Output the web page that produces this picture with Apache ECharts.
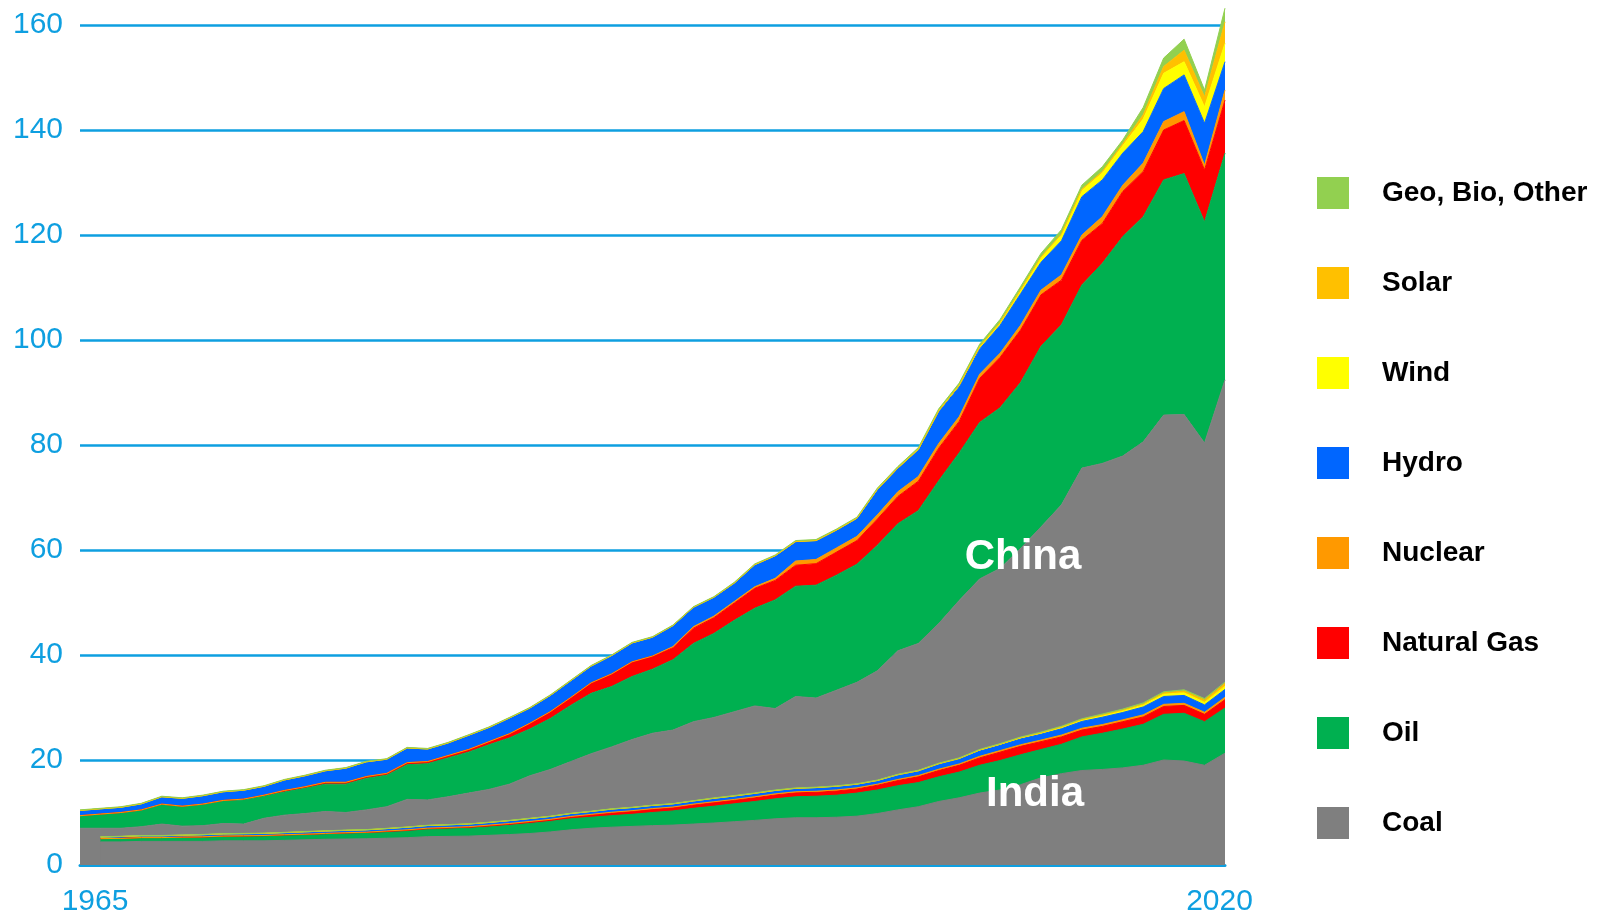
<!DOCTYPE html>
<html><head><meta charset="utf-8">
<script src="https://cdn.jsdelivr.net/npm/echarts@6/dist/echarts.min.js"></script>
<style>html,body{margin:0;padding:0;background:#fff}#c{width:1613px;height:917px}</style>
</head><body><div id="c"></div>
<script>
const years = ['1965','1966','1967','1968','1969','1970','1971','1972','1973','1974','1975','1976','1977','1978','1979','1980','1981','1982','1983','1984','1985','1986','1987','1988','1989','1990','1991','1992','1993','1994','1995','1996','1997','1998','1999','2000','2001','2002','2003','2004','2005','2006','2007','2008','2009','2010','2011','2012','2013','2014','2015','2016','2017','2018','2019','2020','2021'];
const xTickLabels = ['1965','2020'];
const sourceNames = ['Coal','Oil','Natural Gas','Nuclear','Hydro','Wind','Solar','Geo, Bio, Other'];
const legendOrder = ['Geo, Bio, Other','Solar','Wind','Hydro','Nuclear','Natural Gas','Oil','Coal'];
const colors = ['#7f7f7f','#00b050','#ff0000','#ff9900','#0066ff','#ffff00','#ffc000','#92d050'];

const chinaCoal = [7.0,7.0,7.0,7.3,7.8,7.4,7.5,7.9,7.8,8.9,9.5,9.8,10.2,10.0,10.5,11.1,12.5,12.4,13.0,13.7,14.4,15.4,17.0,18.2,19.7,21.2,22.5,23.9,25.1,25.7,27.3,28.1,29.2,30.3,29.8,32.1,31.8,33.3,34.8,37.0,40.8,42.2,46.0,50.4,54.5,56.5,60.3,64.4,68.6,75.6,76.5,77.9,80.6,85.7,85.8,80.4,92.4];
const chinaOil = [2.3,2.6,2.9,3.1,3.7,3.7,4.0,4.3,4.6,4.2,4.4,4.8,5.2,5.4,6.0,6.0,6.6,6.9,7.4,7.8,8.5,8.8,8.9,9.7,10.7,11.5,11.5,12.0,12.2,13.4,14.9,16.0,17.4,18.6,20.7,21.0,21.5,21.9,22.5,23.9,24.2,25.3,27.2,28.1,29.8,30.6,31.6,34.4,34.3,34.9,38.1,41.8,42.9,44.8,45.9,42.1,43.2];
const chinaGas = [0.1,0.1,0.1,0.1,0.1,0.1,0.1,0.1,0.15,0.2,0.3,0.3,0.35,0.35,0.35,0.35,0.4,0.4,0.45,0.5,0.6,0.8,1.1,1.3,1.5,2.0,2.4,2.8,2.5,2.3,2.9,3.0,3.3,3.8,3.7,4.0,4.1,4.4,4.5,5.0,5.2,5.6,6.2,6.0,8.4,9.6,10.0,9.8,8.5,8.5,7.6,8.6,8.6,9.5,10.1,9.9,10.1];
const chinaNuclear = [0,0,0,0,0,0,0,0,0,0,0,0,0,0,0,0,0,0,0,0,0,0,0,0,0,0,0,0,0,0.2,0.3,0.3,0.3,0.3,0.4,0.8,0.8,0.8,0.8,0.8,0.9,0.9,0.9,0.9,0.8,0.8,0.9,0.9,1.0,1.0,1.3,1.2,1.6,1.6,1.7,0.9,1.9];
const chinaHydro = [1.0,1.0,1.0,1.15,1.4,1.5,1.6,1.65,1.7,1.7,2.0,2.1,2.2,2.7,2.8,2.7,2.8,2.4,2.4,2.7,2.7,3.0,2.9,3.1,3.2,3.2,3.5,3.6,3.6,4.0,3.7,3.6,3.5,4.2,4.3,3.7,3.6,3.4,3.4,4.8,4.45,5.05,6.05,5.65,4.8,5.3,6.0,5.3,6.5,7.3,7.0,6.1,6.0,6.3,7.0,8.0,5.4];
const chinaWind = [0,0,0,0,0,0,0,0,0,0,0,0,0,0,0,0,0,0,0,0,0,0,0,0,0,0,0,0,0,0,0,0,0,0,0,0,0,0,0.05,0.05,0.05,0.1,0.15,0.3,0.4,0.5,0.7,0.9,1.1,1.2,1.3,1.4,2.4,2.9,2.5,3.1,3.5];
const chinaSolar = [0,0,0,0,0,0,0,0,0,0,0,0,0,0,0,0,0,0,0,0,0,0,0,0,0,0,0,0,0,0,0,0,0,0,0,0,0,0,0,0,0,0,0,0,0,0.02,0.05,0.1,0.2,0.2,0.3,0.4,0.8,1.3,2.2,1.9,4.1];
const chinaOther = [0.1,0.1,0.1,0.1,0.1,0.1,0.1,0.1,0.1,0.1,0.1,0.1,0.1,0.1,0.1,0.1,0.1,0.1,0.1,0.1,0.1,0.1,0.1,0.1,0.1,0.1,0.1,0.1,0.1,0.1,0.1,0.1,0.15,0.15,0.15,0.2,0.2,0.2,0.2,0.25,0.3,0.35,0.4,0.45,0.5,0.6,0.6,0.7,0.8,0.8,0.9,0.7,1.4,1.6,2.1,1.3,2.6];

const indiaCoal = [null,4.4,4.4,4.5,4.5,4.5,4.5,4.6,4.6,4.6,4.7,4.8,4.9,4.95,5.0,5.1,5.2,5.4,5.45,5.5,5.65,5.8,6.0,6.3,6.7,7.0,7.2,7.35,7.5,7.6,7.8,8.0,8.25,8.5,8.8,9.0,9.0,9.1,9.3,9.8,10.5,11.1,12.1,12.8,13.7,14.3,15.3,16.6,17.4,18.0,18.2,18.5,19.0,20.0,19.8,19.0,21.3];
const indiaOil = [null,0.6,0.65,0.7,0.7,0.75,0.8,0.85,0.9,0.95,1.0,1.0,1.05,1.1,1.15,1.2,1.3,1.4,1.45,1.5,1.6,1.75,1.9,2.0,2.1,2.1,2.2,2.3,2.5,2.7,3.0,3.2,3.4,3.6,3.8,4.0,4.1,4.2,4.4,4.5,4.6,4.6,4.7,4.9,5.3,5.6,5.7,5.4,5.6,6.4,6.9,7.4,7.8,8.7,9.1,8.3,8.6];
const indiaGas = [null,0.02,0.02,0.02,0.02,0.02,0.02,0.02,0.02,0.02,0.02,0.02,0.02,0.05,0.05,0.08,0.1,0.12,0.15,0.2,0.25,0.25,0.3,0.3,0.35,0.45,0.5,0.55,0.6,0.6,0.65,0.7,0.7,0.7,0.75,0.75,0.75,0.8,0.8,0.9,1.0,1.1,1.2,1.3,1.4,1.6,1.6,1.5,1.4,1.3,1.3,1.4,1.4,1.5,1.5,1.4,1.6];
const indiaNuclear = [null,0,0,0,0,0.05,0.05,0.05,0.05,0.05,0.05,0.05,0.05,0.05,0.05,0.1,0.1,0.1,0.1,0.1,0.1,0.1,0.1,0.1,0.1,0.1,0.15,0.15,0.15,0.15,0.15,0.15,0.15,0.2,0.2,0.2,0.2,0.2,0.2,0.2,0.2,0.25,0.25,0.25,0.3,0.3,0.3,0.3,0.35,0.35,0.35,0.35,0.4,0.4,0.4,0.4,0.45];
const indiaHydro = [null,0.3,0.35,0.35,0.35,0.35,0.4,0.4,0.4,0.4,0.4,0.45,0.45,0.45,0.45,0.45,0.5,0.5,0.5,0.5,0.5,0.55,0.55,0.55,0.55,0.55,0.6,0.6,0.6,0.6,0.6,0.65,0.65,0.65,0.65,0.65,0.7,0.7,0.7,0.7,0.8,0.8,0.9,0.9,1.0,1.0,1.1,1.1,1.2,1.3,1.4,1.4,1.5,1.5,1.5,1.4,1.5];
const indiaWind = [null,0,0,0,0,0,0,0,0,0,0,0,0,0,0,0,0,0,0,0,0,0,0,0,0,0,0,0,0,0,0,0,0,0,0,0,0,0,0,0,0.1,0.1,0.15,0.15,0.2,0.2,0.25,0.25,0.3,0.3,0.35,0.35,0.4,0.45,0.5,0.5,0.6];
const indiaSolar = [null,0,0,0,0,0,0,0,0,0,0,0,0,0,0,0,0,0,0,0,0,0,0,0,0,0,0,0,0,0,0,0,0,0,0,0,0,0,0,0,0,0,0,0,0,0,0,0.02,0.03,0.05,0.08,0.12,0.18,0.25,0.35,0.45,0.55];
const indiaOther = [null,0.05,0.05,0.05,0.05,0.05,0.05,0.05,0.05,0.05,0.05,0.05,0.05,0.05,0.05,0.05,0.05,0.05,0.05,0.05,0.05,0.05,0.05,0.05,0.05,0.05,0.05,0.05,0.05,0.05,0.05,0.08,0.08,0.08,0.08,0.08,0.08,0.08,0.08,0.08,0.08,0.1,0.1,0.1,0.12,0.12,0.12,0.15,0.15,0.15,0.18,0.18,0.2,0.2,0.22,0.25,0.25];

const chinaData = [chinaCoal, chinaOil, chinaGas, chinaNuclear, chinaHydro, chinaWind, chinaSolar, chinaOther];
const indiaData = [indiaCoal, indiaOil, indiaGas, indiaNuclear, indiaHydro, indiaWind, indiaSolar, indiaOther];

const BLUE = '#0e9fe0';
const FONT = '"Liberation Sans", Arial, sans-serif';

function mk(name, data, stack, color) {
  return {
    name: name, type: 'line', stack: stack, data: data,
    symbol: 'none', showSymbol: false, clip: false, smooth: false,
    color: color,
    lineStyle: { width: 1, color: color },
    itemStyle: { color: color },
    areaStyle: { color: color, opacity: 1 },
    emphasis: { disabled: true },
    silent: true
  };
}

const series = [];
sourceNames.forEach((n, k) => series.push(mk(n, chinaData[k], 'china', colors[k])));
sourceNames.forEach((n, k) => series.push(mk(n, indiaData[k], 'india', colors[k])));

const chart = echarts.init(document.getElementById('c'));
chart.setOption({
  animation: false,
  backgroundColor: '#ffffff',
  grid: { left: 80, right: 388, top: 25, bottom: 52 },
  xAxis: {
    type: 'category', data: years, boundaryGap: false,
    axisTick: { show: false },
    axisLine: { lineStyle: { color: BLUE, width: 3 } },
    splitLine: { show: false },
    axisLabel: {
      interval: 0,
      formatter: v => xTickLabels.includes(v) ? v : '',
      fontSize: 30, color: BLUE, fontFamily: FONT, margin: 22,
      padding: [0, 0, 0, 30]
    }
  },
  yAxis: {
    type: 'value', min: 0, max: 160, interval: 20,
    axisLine: { show: false }, axisTick: { show: false },
    splitLine: { lineStyle: { color: BLUE, width: 2.5 } },
    axisLabel: { fontSize: 30, color: BLUE, fontFamily: FONT, margin: 17 }
  },
  legend: {
    orient: 'vertical', left: 1312, top: 172,
    itemWidth: 32, itemHeight: 32, itemGap: 58,
    icon: 'rect', selectedMode: false,
    data: legendOrder,
    textStyle: { fontFamily: FONT, fontWeight: 'bold', fontSize: 28, color: '#000', padding: [0, 0, 0, 28], lineHeight: 32 }
  },
  graphic: [
    { type: 'text', x: 1023, y: 557, z: 100, silent: true,
      style: { text: 'China', fill: '#ffffff', font: 'bold 42px "Liberation Sans", Arial, sans-serif', align: 'center', verticalAlign: 'middle', textAlign: 'center', textVerticalAlign: 'middle' } },
    { type: 'text', x: 1035, y: 794, z: 100, silent: true,
      style: { text: 'India', fill: '#ffffff', font: 'bold 42px "Liberation Sans", Arial, sans-serif', align: 'center', verticalAlign: 'middle', textAlign: 'center', textVerticalAlign: 'middle' } }
  ],
  series: series
});
</script></body></html>
